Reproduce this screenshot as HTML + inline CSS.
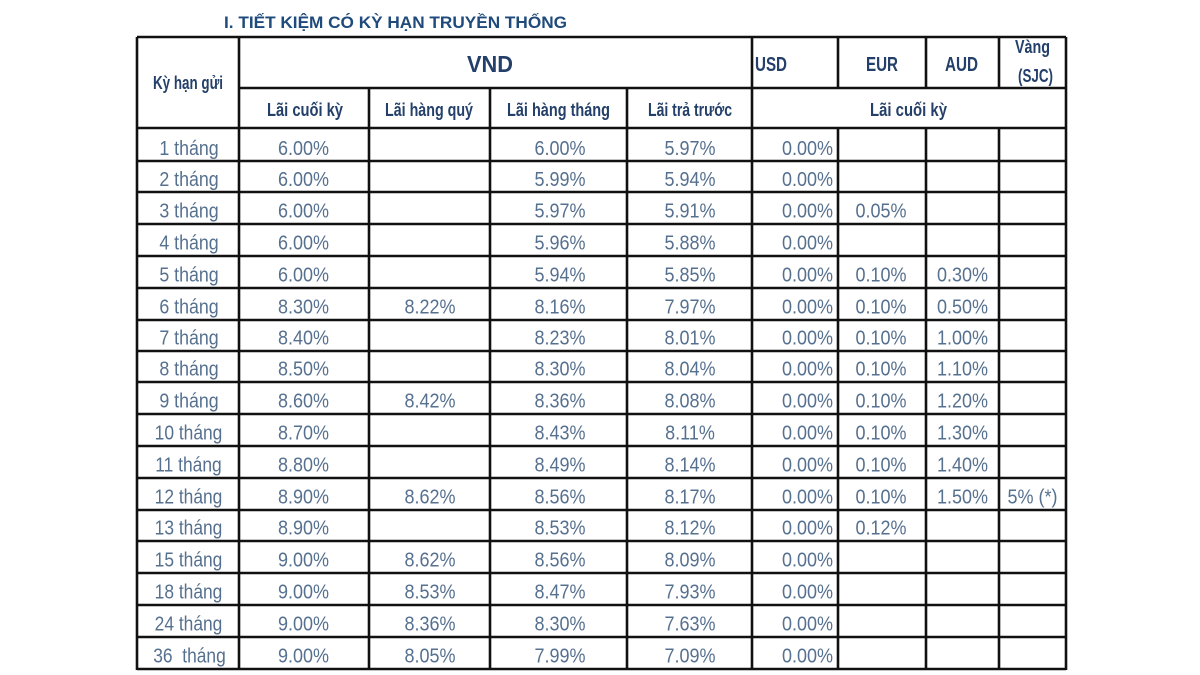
<!DOCTYPE html>
<html>
<head>
<meta charset="utf-8">
<style>
  html,body{margin:0;padding:0;background:#fff;}
  svg{display:block;}
  .h{font-family:"Liberation Sans","DejaVu Sans",sans-serif;font-weight:bold;fill:#24406a;}
  .d{font-family:"Liberation Sans","DejaVu Sans",sans-serif;font-size:20px;fill:#56708f;}
</style>
</head>
<body>
<svg width="1200" height="675" viewBox="0 0 1200 675" xmlns="http://www.w3.org/2000/svg">
  <rect width="1200" height="675" fill="#fff"/>
  <!-- Title -->
  <text class="h" x="224" y="28" font-size="17" textLength="343" lengthAdjust="spacingAndGlyphs" style="fill:#1f4a7c">I. TIẾT KIỆM CÓ KỲ HẠN TRUYỀN THỐNG</text>

  <!-- Grid -->
  <g stroke="#111" stroke-width="2.6" fill="none">
    <!-- outer -->
    <line x1="137" y1="37" x2="1066" y2="37"/>
    <line x1="137" y1="37" x2="137" y2="670"/>
    <line x1="1066" y1="37" x2="1066" y2="670"/>
    <!-- header split -->
    <line x1="239" y1="88" x2="1066" y2="88"/>
    <line x1="137" y1="128" x2="1066" y2="128"/>
    <!-- full verticals -->
    <line x1="239" y1="37" x2="239" y2="670"/>
    <line x1="752" y1="37" x2="752" y2="670"/>
    <!-- sub verticals VND -->
    <line x1="369" y1="88" x2="369" y2="670"/>
    <line x1="490" y1="88" x2="490" y2="670"/>
    <line x1="627" y1="88" x2="627" y2="670"/>
    <!-- foreign currency verticals -->
    <line x1="838" y1="37" x2="838" y2="88"/>
    <line x1="926" y1="37" x2="926" y2="88"/>
    <line x1="999" y1="37" x2="999" y2="88"/>
    <line x1="838" y1="128" x2="838" y2="670"/>
    <line x1="926" y1="128" x2="926" y2="670"/>
    <line x1="999" y1="128" x2="999" y2="670"/>
    <!-- row lines -->
    <line x1="137" y1="161" x2="1066" y2="161"/>
    <line x1="137" y1="192" x2="1066" y2="192"/>
    <line x1="137" y1="224" x2="1066" y2="224"/>
    <line x1="137" y1="256" x2="1066" y2="256"/>
    <line x1="137" y1="288" x2="1066" y2="288"/>
    <line x1="137" y1="320" x2="1066" y2="320"/>
    <line x1="137" y1="351" x2="1066" y2="351"/>
    <line x1="137" y1="382" x2="1066" y2="382"/>
    <line x1="137" y1="414" x2="1066" y2="414"/>
    <line x1="137" y1="446" x2="1066" y2="446"/>
    <line x1="137" y1="478" x2="1066" y2="478"/>
    <line x1="137" y1="510" x2="1066" y2="510"/>
    <line x1="137" y1="541" x2="1066" y2="541"/>
    <line x1="137" y1="573" x2="1066" y2="573"/>
    <line x1="137" y1="605" x2="1066" y2="605"/>
    <line x1="137" y1="637" x2="1066" y2="637"/>
    <line x1="137" y1="669" x2="1066" y2="669"/>
  </g>

  <!-- Headers -->
  <text class="h" x="153" y="89" font-size="18" textLength="70" lengthAdjust="spacingAndGlyphs">Kỳ hạn gửi</text>
  <text class="h" x="467" y="72" font-size="23" textLength="46" lengthAdjust="spacingAndGlyphs">VND</text>
  <text class="h" x="267" y="116" font-size="18" textLength="76" lengthAdjust="spacingAndGlyphs">Lãi cuối kỳ</text>
  <text class="h" x="385" y="116" font-size="18" textLength="88" lengthAdjust="spacingAndGlyphs">Lãi hàng quý</text>
  <text class="h" x="507" y="116" font-size="18" textLength="103" lengthAdjust="spacingAndGlyphs">Lãi hàng tháng</text>
  <text class="h" x="648" y="116" font-size="18" textLength="84" lengthAdjust="spacingAndGlyphs">Lãi trả trước</text>
  <text class="h" x="755" y="71" font-size="20" textLength="32" lengthAdjust="spacingAndGlyphs">USD</text>
  <text class="h" x="866" y="71" font-size="20" textLength="32" lengthAdjust="spacingAndGlyphs">EUR</text>
  <text class="h" x="945" y="71" font-size="20" textLength="33" lengthAdjust="spacingAndGlyphs">AUD</text>
  <text class="h" x="1015" y="53" font-size="18" textLength="35" lengthAdjust="spacingAndGlyphs">Vàng</text>
  <text class="h" x="1018" y="82" font-size="18" textLength="35" lengthAdjust="spacingAndGlyphs">(SJC)</text>
  <text class="h" x="870" y="116" font-size="18" textLength="77" lengthAdjust="spacingAndGlyphs">Lãi cuối kỳ</text>

  <!-- Data rows -->
  <g class="d" text-anchor="middle">
    <!-- row baselines: bottom - 6.5 -->
    <!-- Row 1 -->
    <text transform="translate(189,155) scale(0.89,1)">1 tháng</text>
    <text transform="translate(303.5,155) scale(0.9,1)">6.00%</text>
    <text transform="translate(560,155) scale(0.9,1)">6.00%</text>
    <text transform="translate(690,155) scale(0.9,1)">5.97%</text>
    <text transform="translate(833,155) scale(0.9,1)" text-anchor="end">0.00%</text>
    <!-- Row 2 -->
    <text transform="translate(189,186) scale(0.89,1)">2 tháng</text>
    <text transform="translate(303.5,186) scale(0.9,1)">6.00%</text>
    <text transform="translate(560,186) scale(0.9,1)">5.99%</text>
    <text transform="translate(690,186) scale(0.9,1)">5.94%</text>
    <text transform="translate(833,186) scale(0.9,1)" text-anchor="end">0.00%</text>
    <!-- Row 3 -->
    <text transform="translate(189,217.5) scale(0.89,1)">3 tháng</text>
    <text transform="translate(303.5,217.5) scale(0.9,1)">6.00%</text>
    <text transform="translate(560,217.5) scale(0.9,1)">5.97%</text>
    <text transform="translate(690,217.5) scale(0.9,1)">5.91%</text>
    <text transform="translate(833,217.5) scale(0.9,1)" text-anchor="end">0.00%</text>
    <text transform="translate(881,217.5) scale(0.9,1)">0.05%</text>
    <!-- Row 4 -->
    <text transform="translate(189,249.5) scale(0.89,1)">4 tháng</text>
    <text transform="translate(303.5,249.5) scale(0.9,1)">6.00%</text>
    <text transform="translate(560,249.5) scale(0.9,1)">5.96%</text>
    <text transform="translate(690,249.5) scale(0.9,1)">5.88%</text>
    <text transform="translate(833,249.5) scale(0.9,1)" text-anchor="end">0.00%</text>
    <!-- Row 5 -->
    <text transform="translate(189,281.5) scale(0.89,1)">5 tháng</text>
    <text transform="translate(303.5,281.5) scale(0.9,1)">6.00%</text>
    <text transform="translate(560,281.5) scale(0.9,1)">5.94%</text>
    <text transform="translate(690,281.5) scale(0.9,1)">5.85%</text>
    <text transform="translate(833,281.5) scale(0.9,1)" text-anchor="end">0.00%</text>
    <text transform="translate(881,281.5) scale(0.9,1)">0.10%</text>
    <text transform="translate(962.5,281.5) scale(0.9,1)">0.30%</text>
    <!-- Row 6 -->
    <text transform="translate(189,313.5) scale(0.89,1)">6 tháng</text>
    <text transform="translate(303.5,313.5) scale(0.9,1)">8.30%</text>
    <text transform="translate(430,313.5) scale(0.9,1)">8.22%</text>
    <text transform="translate(560,313.5) scale(0.9,1)">8.16%</text>
    <text transform="translate(690,313.5) scale(0.9,1)">7.97%</text>
    <text transform="translate(833,313.5) scale(0.9,1)" text-anchor="end">0.00%</text>
    <text transform="translate(881,313.5) scale(0.9,1)">0.10%</text>
    <text transform="translate(962.5,313.5) scale(0.9,1)">0.50%</text>
    <!-- Row 7 -->
    <text transform="translate(189,344.5) scale(0.89,1)">7 tháng</text>
    <text transform="translate(303.5,344.5) scale(0.9,1)">8.40%</text>
    <text transform="translate(560,344.5) scale(0.9,1)">8.23%</text>
    <text transform="translate(690,344.5) scale(0.9,1)">8.01%</text>
    <text transform="translate(833,344.5) scale(0.9,1)" text-anchor="end">0.00%</text>
    <text transform="translate(881,344.5) scale(0.9,1)">0.10%</text>
    <text transform="translate(962.5,344.5) scale(0.9,1)">1.00%</text>
    <!-- Row 8 -->
    <text transform="translate(189,375.5) scale(0.89,1)">8 tháng</text>
    <text transform="translate(303.5,375.5) scale(0.9,1)">8.50%</text>
    <text transform="translate(560,375.5) scale(0.9,1)">8.30%</text>
    <text transform="translate(690,375.5) scale(0.9,1)">8.04%</text>
    <text transform="translate(833,375.5) scale(0.9,1)" text-anchor="end">0.00%</text>
    <text transform="translate(881,375.5) scale(0.9,1)">0.10%</text>
    <text transform="translate(962.5,375.5) scale(0.9,1)">1.10%</text>
    <!-- Row 9 -->
    <text transform="translate(189,407.5) scale(0.89,1)">9 tháng</text>
    <text transform="translate(303.5,407.5) scale(0.9,1)">8.60%</text>
    <text transform="translate(430,407.5) scale(0.9,1)">8.42%</text>
    <text transform="translate(560,407.5) scale(0.9,1)">8.36%</text>
    <text transform="translate(690,407.5) scale(0.9,1)">8.08%</text>
    <text transform="translate(833,407.5) scale(0.9,1)" text-anchor="end">0.00%</text>
    <text transform="translate(881,407.5) scale(0.9,1)">0.10%</text>
    <text transform="translate(962.5,407.5) scale(0.9,1)">1.20%</text>
    <!-- Row 10 -->
    <text transform="translate(188.5,439.5) scale(0.87,1)">10 tháng</text>
    <text transform="translate(303.5,439.5) scale(0.9,1)">8.70%</text>
    <text transform="translate(560,439.5) scale(0.9,1)">8.43%</text>
    <text transform="translate(690,439.5) scale(0.9,1)">8.11%</text>
    <text transform="translate(833,439.5) scale(0.9,1)" text-anchor="end">0.00%</text>
    <text transform="translate(881,439.5) scale(0.9,1)">0.10%</text>
    <text transform="translate(962.5,439.5) scale(0.9,1)">1.30%</text>
    <!-- Row 11 -->
    <text transform="translate(188.5,471.5) scale(0.87,1)">11 tháng</text>
    <text transform="translate(303.5,471.5) scale(0.9,1)">8.80%</text>
    <text transform="translate(560,471.5) scale(0.9,1)">8.49%</text>
    <text transform="translate(690,471.5) scale(0.9,1)">8.14%</text>
    <text transform="translate(833,471.5) scale(0.9,1)" text-anchor="end">0.00%</text>
    <text transform="translate(881,471.5) scale(0.9,1)">0.10%</text>
    <text transform="translate(962.5,471.5) scale(0.9,1)">1.40%</text>
    <!-- Row 12 -->
    <text transform="translate(188.5,503.5) scale(0.87,1)">12 tháng</text>
    <text transform="translate(303.5,503.5) scale(0.9,1)">8.90%</text>
    <text transform="translate(430,503.5) scale(0.9,1)">8.62%</text>
    <text transform="translate(560,503.5) scale(0.9,1)">8.56%</text>
    <text transform="translate(690,503.5) scale(0.9,1)">8.17%</text>
    <text transform="translate(833,503.5) scale(0.9,1)" text-anchor="end">0.00%</text>
    <text transform="translate(881,503.5) scale(0.9,1)">0.10%</text>
    <text transform="translate(962.5,503.5) scale(0.9,1)">1.50%</text>
    <text transform="translate(1032.5,503.5) scale(0.9,1)">5% (*)</text>
    <!-- Row 13 -->
    <text transform="translate(188.5,534.5) scale(0.87,1)">13 tháng</text>
    <text transform="translate(303.5,534.5) scale(0.9,1)">8.90%</text>
    <text transform="translate(560,534.5) scale(0.9,1)">8.53%</text>
    <text transform="translate(690,534.5) scale(0.9,1)">8.12%</text>
    <text transform="translate(833,534.5) scale(0.9,1)" text-anchor="end">0.00%</text>
    <text transform="translate(881,534.5) scale(0.9,1)">0.12%</text>
    <!-- Row 15 -->
    <text transform="translate(188.5,566.5) scale(0.87,1)">15 tháng</text>
    <text transform="translate(303.5,566.5) scale(0.9,1)">9.00%</text>
    <text transform="translate(430,566.5) scale(0.9,1)">8.62%</text>
    <text transform="translate(560,566.5) scale(0.9,1)">8.56%</text>
    <text transform="translate(690,566.5) scale(0.9,1)">8.09%</text>
    <text transform="translate(833,566.5) scale(0.9,1)" text-anchor="end">0.00%</text>
    <!-- Row 18 -->
    <text transform="translate(188.5,598.5) scale(0.87,1)">18 tháng</text>
    <text transform="translate(303.5,598.5) scale(0.9,1)">9.00%</text>
    <text transform="translate(430,598.5) scale(0.9,1)">8.53%</text>
    <text transform="translate(560,598.5) scale(0.9,1)">8.47%</text>
    <text transform="translate(690,598.5) scale(0.9,1)">7.93%</text>
    <text transform="translate(833,598.5) scale(0.9,1)" text-anchor="end">0.00%</text>
    <!-- Row 24 -->
    <text transform="translate(188.5,630.5) scale(0.87,1)">24 tháng</text>
    <text transform="translate(303.5,630.5) scale(0.9,1)">9.00%</text>
    <text transform="translate(430,630.5) scale(0.9,1)">8.36%</text>
    <text transform="translate(560,630.5) scale(0.9,1)">8.30%</text>
    <text transform="translate(690,630.5) scale(0.9,1)">7.63%</text>
    <text transform="translate(833,630.5) scale(0.9,1)" text-anchor="end">0.00%</text>
    <!-- Row 36 -->
    <text transform="translate(189.5,662.5) scale(0.87,1)" xml:space="preserve">36  tháng</text>
    <text transform="translate(303.5,662.5) scale(0.9,1)">9.00%</text>
    <text transform="translate(430,662.5) scale(0.9,1)">8.05%</text>
    <text transform="translate(560,662.5) scale(0.9,1)">7.99%</text>
    <text transform="translate(690,662.5) scale(0.9,1)">7.09%</text>
    <text transform="translate(833,662.5) scale(0.9,1)" text-anchor="end">0.00%</text>
  </g>
</svg>
</body>
</html>
